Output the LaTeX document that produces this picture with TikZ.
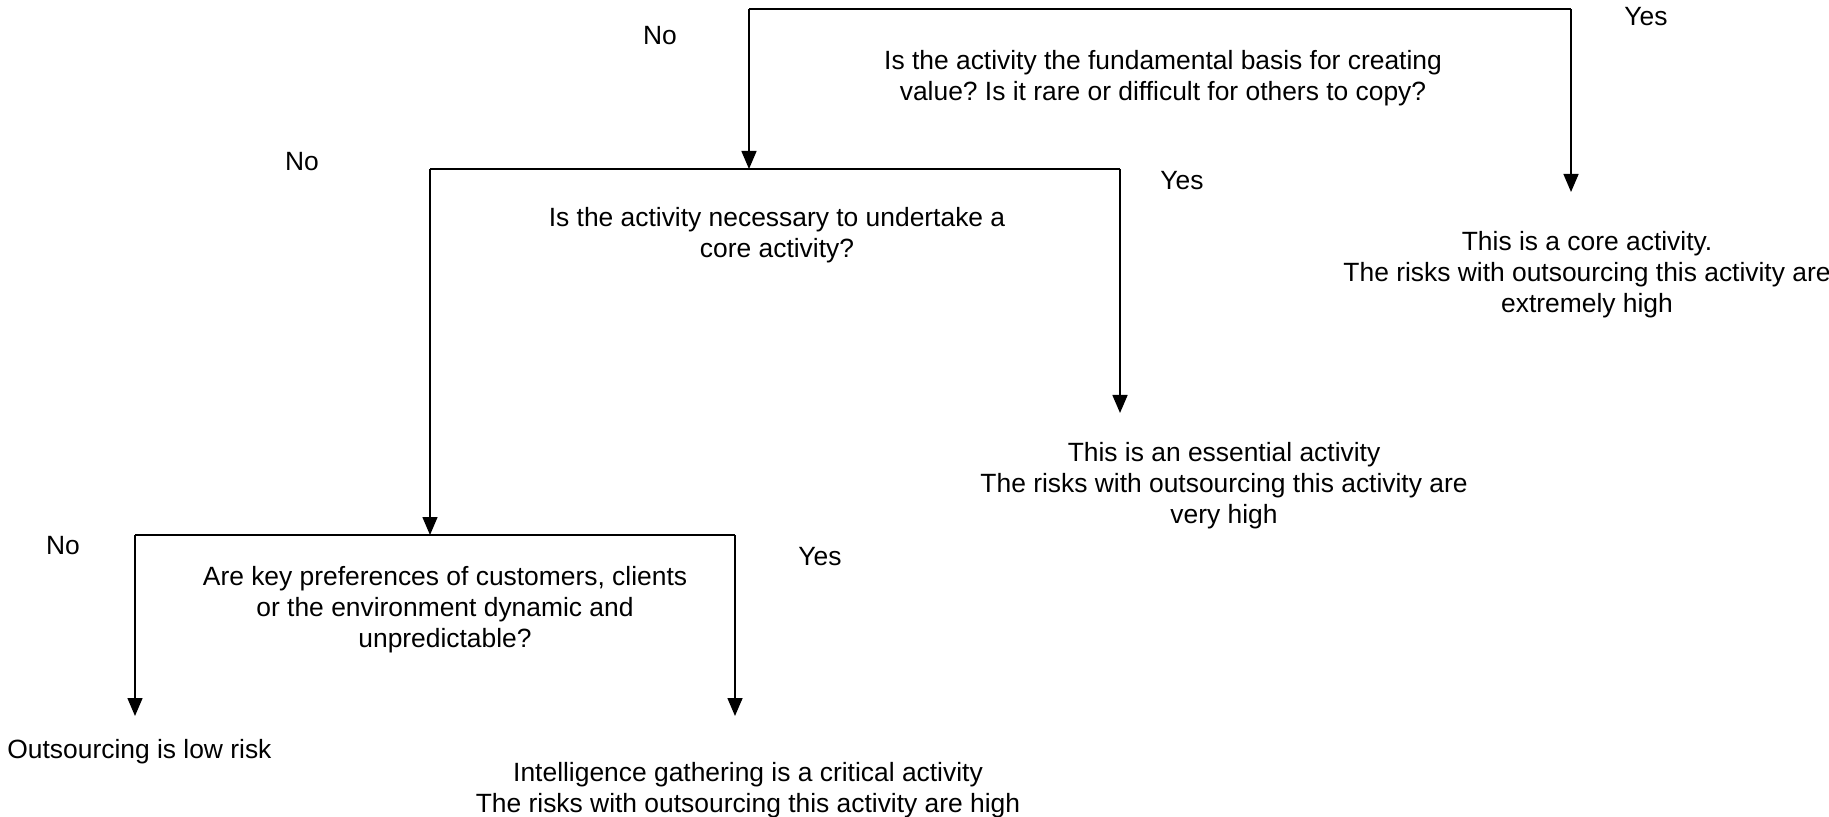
\documentclass[tikz,border=0pt]{standalone}
\usepackage{fontspec}
\setmainfont{Liberation Sans}
\usetikzlibrary{arrows.meta}
\frenchspacing

\begin{document}
\begin{tikzpicture}[x=0.5pt,y=-0.5pt,
  txt/.style={font=\fontsize{13.2}{15.5}\selectfont, align=center, inner sep=0pt},
  lbl/.style={font=\fontsize{13.2}{15.5}\selectfont, inner sep=0pt},
  bar/.style={line width=1.15pt},
  drop/.style={line width=0.75pt, -{Triangle[length=9pt,width=7.5pt]}},
]
\useasboundingbox (0,0) rectangle (1829,817);

% branch points of the three decisions
\coordinate (b1l) at (749,9);
\coordinate (b1r) at (1571,9);
\coordinate (b2l) at (430,169);
\coordinate (b2r) at (1120,169);
\coordinate (b2in) at (749,169);
\coordinate (b3l) at (135,535);
\coordinate (b3r) at (735,535);
\coordinate (b3in) at (430,535);
\coordinate (coreIn) at (1571,192);
\coordinate (essIn) at (1120,413);
\coordinate (lowIn) at (135,716);
\coordinate (intIn) at (735,716);

% questions
\node[txt] (q1) at (1163,78) {Is the activity the fundamental basis for creating\\value? Is it rare or difficult for others to copy?};
\node[txt] (q2) at (777,235) {Is the activity necessary to undertake a\\core activity?};
\node[txt] (q3) at (445,610) {Are key preferences of customers, clients\\or the environment dynamic and\\unpredictable?};

% outcomes
\node[txt] (core) at (1587,275) {This is a core activity.\\The risks with outsourcing this activity are\\extremely high};
\node[txt] (ess) at (1224,486) {This is an essential activity\\The risks with outsourcing this activity are\\very high};
\node[txt, anchor=west] (low) at (7,752) {Outsourcing is low risk};
\node[txt] (intel) at (748,790) {Intelligence gathering is a critical activity\\The risks with outsourcing this activity are high};

% branch labels
\node[lbl] (no1) at (660,36) {No};
\node[lbl] (yes1) at (1646,17) {Yes};
\node[lbl] (no2) at (302,162) {No};
\node[lbl] (yes2) at (1182,181) {Yes};
\node[lbl] (no3) at (63,546) {No};
\node[lbl] (yes3) at (820,557) {Yes};

% bars
\draw[bar] (b1l) -- (b1r);
\draw[bar] (b2l) -- (b2r);
\draw[bar] (b3l) -- (b3r);

% drops
\draw[drop] (b1l) -- (b2in);
\draw[drop] (b1r) -- (coreIn);
\draw[drop] (b2l) -- (b3in);
\draw[drop] (b2r) -- (essIn);
\draw[drop] (b3l) -- (lowIn);
\draw[drop] (b3r) -- (intIn);
\end{tikzpicture}
\end{document}
